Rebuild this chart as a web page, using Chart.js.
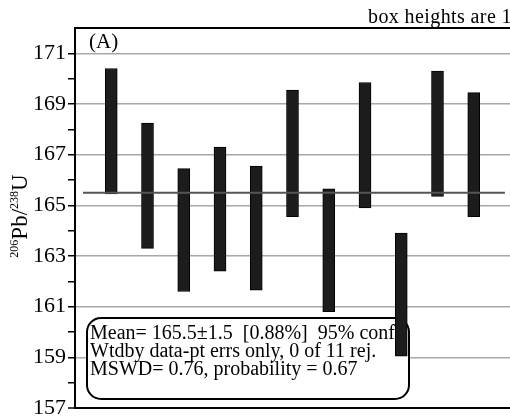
<!DOCTYPE html>
<html>
<head>
<meta charset="utf-8">
<script src="https://cdn.jsdelivr.net/npm/chart.js@4"></script>
<style>
  body { margin: 0; background: #fff; }
  canvas { display: block; }
</style>
</head>
<body>
<canvas id="myChart" width="510" height="416"></canvas>
<script>
// grain numbers and the 206Pb/238U age boxes (Ma)
const grains = [1, 2, 3, 4, 5, 6, 7, 8, 9, 10, 11];
const ageLow = [165.45, 163.3, 161.6, 162.4, 161.65, 164.55, 160.8, 164.9, 159.05, 165.35, 164.55];
const ageHigh = [170.4, 168.25, 166.45, 167.3, 166.55, 169.55, 165.65, 169.85, 163.9, 170.3, 169.45];

// weighted mean and how far its line runs along x
const meanAge = 165.5;
const meanFrom = 0.22;
const meanTo = 11.86;

// y axis range and labelled ticks
const yMin = 157;
const yMax = 172;
const yLabels = [157, 159, 161, 163, 165, 167, 169, 171];

const statLines = [
  'Mean= 165.5\u00b11.5  [0.88%]  95% conf.',
  'Wtdby data-pt errs only, 0 of 11 rej.',
  'MSWD= 0.76, probability = 0.67'
];

const serif = '"Liberation Serif", "Times New Roman", serif';

//rounded box with the weighted mean results, under the bars
const statBox = {
    id: 'statBox',
    beforeDatasetsDraw(chart) {
        const c = chart.ctx;
        const x0 = 87, y0 = 318, x1 = 409, y1 = 399, r = 14;
        c.save();
        c.beginPath();
        c.moveTo(x0 + r, y0);
        c.lineTo(x1 - r, y0);
        c.arcTo(x1, y0, x1, y0 + r, r);
        c.lineTo(x1, y1 - r);
        c.arcTo(x1, y1, x1 - r, y1, r);
        c.lineTo(x0 + r, y1);
        c.arcTo(x0, y1, x0, y1 - r, r);
        c.lineTo(x0, y0 + r);
        c.arcTo(x0, y0, x0 + r, y0, r);
        c.closePath();
        c.fillStyle = '#fff';
        c.fill();
        c.lineWidth = 2;
        c.strokeStyle = '#000';
        c.stroke();
        c.fillStyle = '#000';
        c.font = '20px ' + serif;
        c.textBaseline = 'alphabetic';
        statLines.forEach((t, i) => c.fillText(t, 90, 339 + i * 18));
        c.restore();
    }
};

//axis title with superscripts, panel letter and the note at the top
const labels = {
    id: 'labels',
    afterDraw(chart) {
        const c = chart.ctx;
        c.save();
        c.fillStyle = '#000';
        c.textBaseline = 'alphabetic';

        const parts = [['206', true], ['Pb', false], ['/', false], ['238', true], ['U', false]];
        const big = '23px ' + serif, small = '12px ' + serif;
        let total = 0;
        parts.forEach(p => { c.font = p[1] ? small : big; total += c.measureText(p[0]).width; });
        c.translate(27, 216);
        c.rotate(-Math.PI / 2);
        let x = -total / 2;
        parts.forEach(p => {
            c.font = p[1] ? small : big;
            c.fillText(p[0], x, p[1] ? -9 : 0);
            x += c.measureText(p[0]).width;
        });
        c.setTransform(1, 0, 0, 1, 0, 0);

        c.font = '21px ' + serif;
        c.fillText('(A)', 89, 48);
        c.font = '20px ' + serif;
        c.letterSpacing = '0.4px';
        c.fillText('box heights are 1', 368, 23);
        c.restore();
    }
};

const ctx = document.getElementById('myChart');
const chart1 = new Chart(ctx, {
    type: 'bar',
    data: {
        datasets: [{
            type: 'line',
            data: [{ x: meanFrom, y: meanAge }, { x: meanTo, y: meanAge }],
            borderColor: '#555',
            borderWidth: 2,
            pointRadius: 0
        }, {
            type: 'bar',
            data: grains.map((g, i) => ({ x: g, y: [ageLow[i], ageHigh[i]] })),
            backgroundColor: '#1c1c1c',
            borderColor: '#000',
            borderWidth: 1,
            borderSkipped: false,
            barThickness: 12
        }]
    },
    options: {
        responsive: false,
        animation: false,
        layout: { padding: { top: 28, bottom: 8, left: 0, right: 0 } },
        plugins: { legend: { display: false }, tooltip: { enabled: false } },
        scales: {
            x: { type: 'linear', min: 0, max: 12, offset: false, display: false },
            y: {
                min: yMin,
                max: yMax,
                afterFit(s) {
                    s.width = 75;
                    s.paddingTop = 0;
                    s.paddingBottom = 0;
                },
                ticks: {
                    stepSize: 1,
                    autoSkip: false,
                    padding: 2,
                    color: '#000',
                    font: { family: serif, size: 22 },
                    callback: v => yLabels.includes(v) ? String(v) : ''
                },
                grid: {
                    color: c => {
                        const v = c.tick.value;
                        if (v === yMin || v === yMax) return '#000';
                        return yLabels.includes(v) ? '#a8a8a8' : 'rgba(0,0,0,0)';
                    },
                    lineWidth: c => (c.tick.value === yMin || c.tick.value === yMax) ? 2 : 1.5,
                    tickColor: c => c.tick.value === yMax ? 'rgba(0,0,0,0)' : '#000',
                    tickLength: 7,
                    tickWidth: 1.5
                },
                border: { color: '#000', width: 2 }
            }
        }
    },
    plugins: [statBox, labels]
});
</script>
</body>
</html>
